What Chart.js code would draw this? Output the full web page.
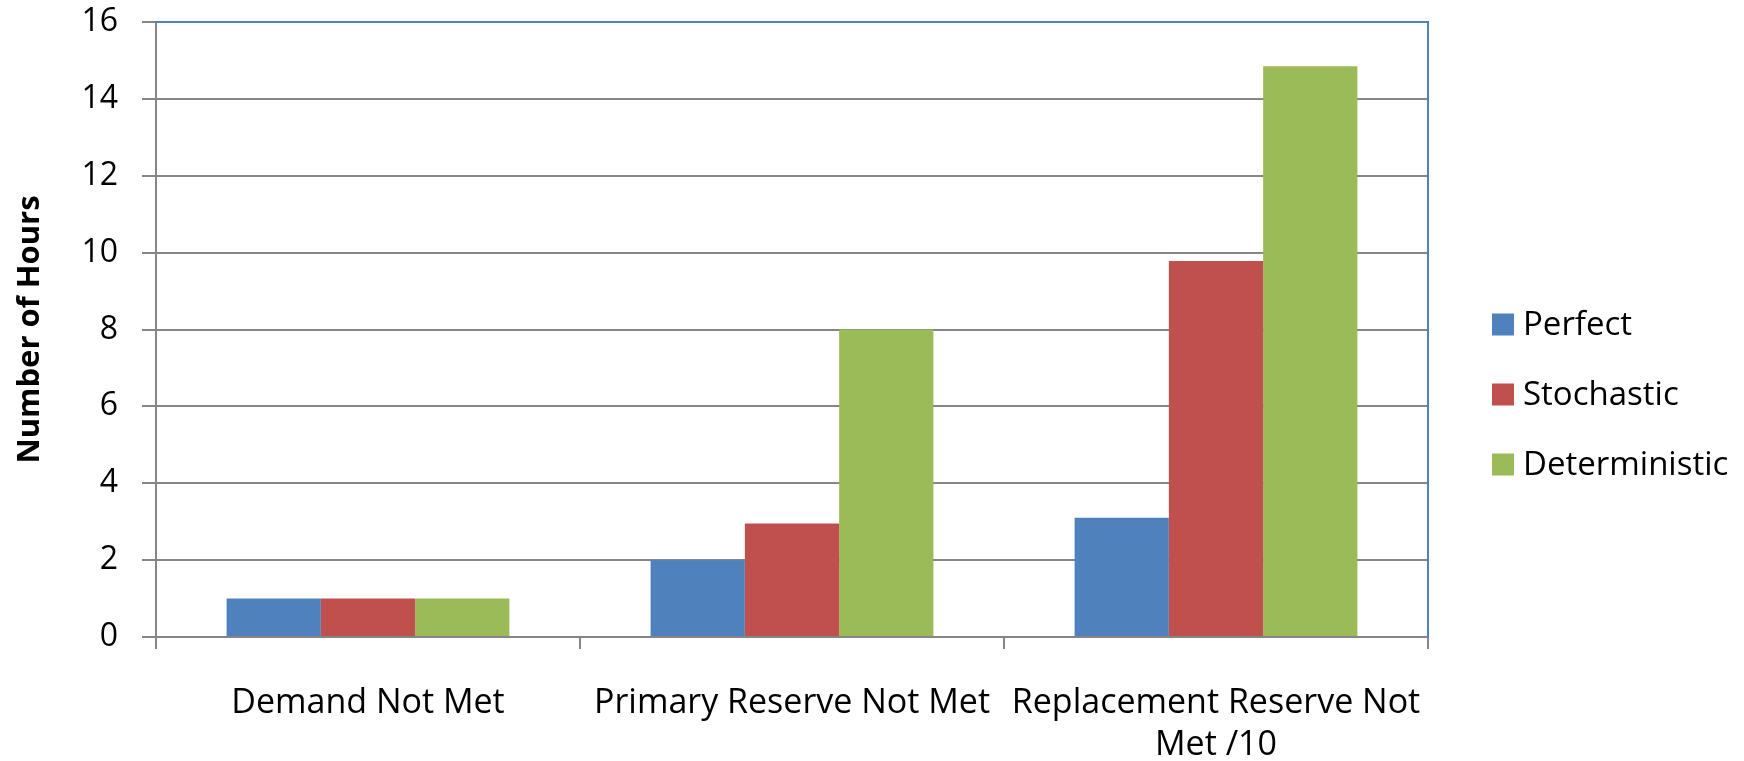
<!DOCTYPE html>
<html>
<head>
<meta charset="utf-8">
<script src="https://cdn.jsdelivr.net/npm/chart.js@4"></script>
<style>
  html, body { margin: 0; padding: 0; background: #fff; }
  #wrap { width: 1744px; height: 761px; position: relative; }
</style>
</head>
<body>
<div id="wrap"><canvas id="c" width="1744" height="761"></canvas></div>
<script>
const categories = ["Demand Not Met", "Primary Reserve Not Met", ["Replacement Reserve Not", "Met /10"]];
const seriesNames = ["Perfect", "Stochastic", "Deterministic"];
const perfect = [1, 2, 3.1];
const stochastic = [1, 2.95, 9.78];
const deterministic = [1, 8, 14.85];
const yTicks = [0, 2, 4, 6, 8, 10, 12, 14, 16];
const colors = ["#4F81BD", "#C0504D", "#9BBB59"];

const FONT = "'Open Sans', 'Noto Sans', sans-serif";

const borderPlugin = {
  id: 'plotBorder',
  afterDraw(chart) {
    const { ctx, chartArea: a } = chart;
    ctx.save();
    ctx.strokeStyle = '#4F81BD';
    ctx.lineWidth = 2;
    ctx.beginPath();
    ctx.moveTo(a.left, a.top);
    ctx.lineTo(a.right, a.top);
    ctx.lineTo(a.right, a.bottom);
    ctx.stroke();
    ctx.restore();
  }
};

const legendPlugin = {
  id: 'sideLegend',
  afterDraw(chart) {
    const { ctx, chartArea: a } = chart;
    const ds = chart.data.datasets;
    const boxX = a.right + 64;
    const box = 22;
    const spacing = 70;
    const midY = (a.top + a.bottom) / 2 + 65;
    ctx.save();
    ctx.font = "33px " + FONT;
    ctx.textBaseline = 'middle';
    ctx.textAlign = 'left';
    ds.forEach((d, i) => {
      const cy = midY + (i - (ds.length - 1) / 2) * spacing;
      ctx.fillStyle = d.backgroundColor;
      ctx.fillRect(boxX, cy - box / 2, box, box);
      ctx.fillStyle = '#000';
      ctx.fillText(d.label, boxX + box + 9, cy + 1);
    });
    ctx.restore();
  }
};

new Chart(document.getElementById('c'), {
  type: 'bar',
  data: {
    labels: categories,
    datasets: [
      { label: seriesNames[0], data: perfect, backgroundColor: colors[0] },
      { label: seriesNames[1], data: stochastic, backgroundColor: colors[1] },
      { label: seriesNames[2], data: deterministic, backgroundColor: colors[2] }
    ]
  },
  options: {
    responsive: false,
    animation: false,
    layout: { padding: { left: 12, right: 316, top: 22, bottom: 0 } },
    datasets: { bar: { categoryPercentage: 0.667, barPercentage: 1.0 } },
    plugins: {
      tooltip: { enabled: false },
      legend: { display: false }
    },
    scales: {
      x: {
        afterFit(scale) { scale.height = 124; scale.paddingLeft = 0; scale.paddingRight = 0; },
        grid: { display: true, drawOnChartArea: false, offset: true, color: '#868686', tickLength: 12, lineWidth: 2 },
        border: { color: '#868686', width: 2 },
        ticks: { color: '#000', font: { family: FONT, size: 34, lineHeight: 1.22 }, padding: 34, maxRotation: 0, autoSkip: false }
      },
      y: {
        min: 0, max: 16,
        afterBuildTicks(scale) { scale.ticks = yTicks.map(v => ({ value: v })); },
        afterFit(scale) { scale.width = 144; scale.paddingTop = 0; scale.paddingBottom = 0; },
        grid: { color: '#868686', lineWidth: 2, tickLength: 14 },
        border: { color: '#868686', width: 2 },
        ticks: { color: '#000', font: { family: FONT, size: 32 }, padding: 24 },
        title: { display: true, text: 'Number of Hours', color: '#000', font: { family: FONT, size: 31, weight: 'bold' }, padding: { top: 0, bottom: 0 } }
      }
    }
  },
  plugins: [borderPlugin, legendPlugin]
});
</script>
</body>
</html>
